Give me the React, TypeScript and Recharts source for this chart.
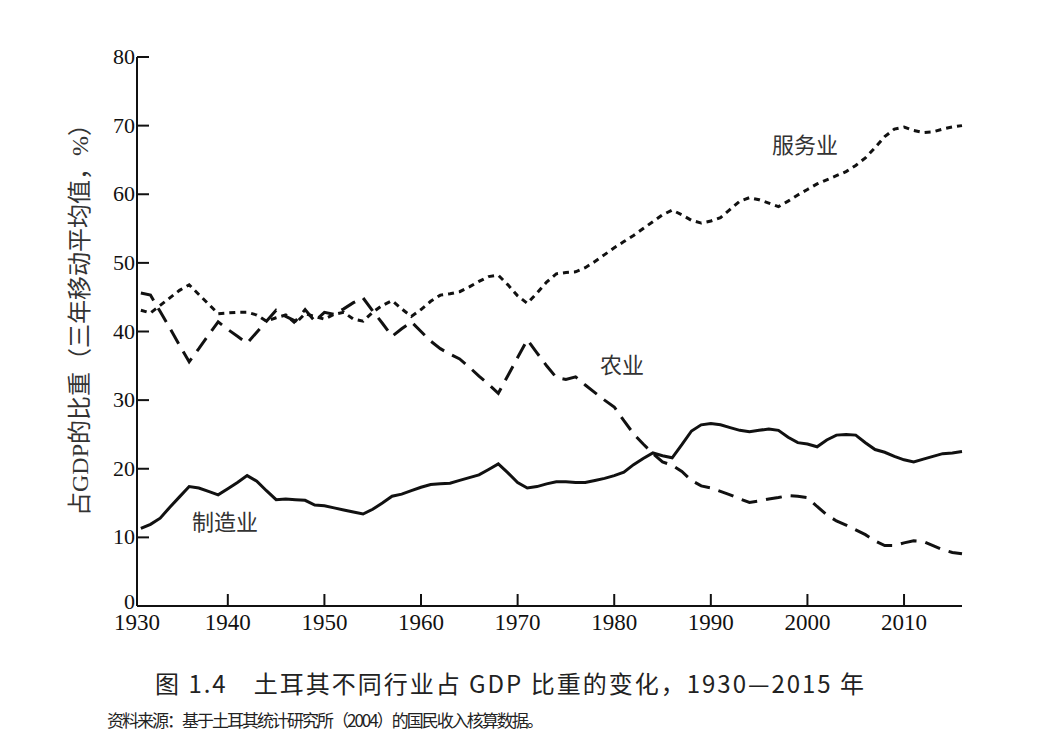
import { LineChart, Line, XAxis, YAxis } from 'recharts';

// three-year moving averages, 1931–2016
const years = Array.from({ length: 86 }, (_, i) => 1931 + i);

const agriculture = [
  45.6, 45.3, 42.9, 40.5, 38.0, 35.6, 37.5, 39.5, 41.4, 40.3,
  39.3, 38.3, 39.9, 41.5, 43.1, 42.2, 41.5, 43.2, 41.5, 42.8,
  42.5, 43.3, 44.2, 44.9, 43.0, 41.2, 39.3, 40.4, 41.4, 40.0,
  38.6, 37.5, 36.7, 36.0, 34.8, 33.5, 32.3, 31.0, 33.6, 36.2,
  38.8, 36.9, 35.0, 33.3, 33.0, 33.4, 32.2, 31.1, 30.0, 29.0,
  27.0, 25.1, 23.6, 22.2, 21.0, 20.5, 19.6, 18.3, 17.5, 17.2,
  16.7, 16.2, 15.6, 15.1, 15.3, 15.6, 15.8, 16.1, 16.0, 15.8,
  14.5, 13.3, 12.4, 11.8, 11.1, 10.4, 9.5, 8.8, 8.8, 9.2,
  9.5, 9.4, 8.8, 8.2, 7.8, 7.6,
];

const manufacturing = [
  11.3, 11.9, 12.8, 14.4, 15.9, 17.4, 17.2, 16.7, 16.2, 17.1,
  18.0, 19.0, 18.2, 16.8, 15.5, 15.6, 15.5, 15.4, 14.7, 14.6,
  14.3, 14.0, 13.7, 13.4, 14.1, 15.0, 16.0, 16.3, 16.8, 17.3,
  17.7, 17.8, 17.9, 18.3, 18.7, 19.1, 19.9, 20.7, 19.4, 18.0,
  17.2, 17.4, 17.8, 18.1, 18.1, 18.0, 18.0, 18.3, 18.6, 19.0,
  19.5, 20.6, 21.5, 22.3, 21.9, 21.6, 23.5, 25.5, 26.4, 26.6,
  26.4, 26.0, 25.6, 25.4, 25.6, 25.8, 25.6, 24.6, 23.8, 23.6,
  23.2, 24.2, 24.9, 25.0, 24.9, 23.8, 22.8, 22.4, 21.8, 21.3,
  21.0, 21.4, 21.8, 22.2, 22.3, 22.5,
];

const services = [
  43.1, 42.7, 43.8, 44.9, 46.0, 46.8, 45.4, 44.0, 42.6, 42.7,
  42.8, 42.8, 42.4, 41.5, 42.0, 42.4, 41.2, 42.6, 42.2, 41.8,
  42.5, 42.8, 41.8, 41.5, 42.8, 43.8, 44.5, 43.3, 42.2, 43.2,
  44.4, 45.3, 45.5, 45.8, 46.5, 47.3, 48.0, 48.2, 46.8, 45.2,
  44.1, 45.6, 47.2, 48.4, 48.6, 48.7, 49.3, 50.2, 51.2, 52.2,
  53.1, 54.0, 55.0, 56.0, 57.0, 57.7, 57.0, 56.2, 55.8, 56.1,
  56.6, 57.8, 59.0, 59.5, 59.2, 58.7, 58.2, 59.0, 59.9, 60.7,
  61.5, 62.1, 62.7, 63.3, 64.2, 65.3, 66.8, 68.4, 69.5, 69.8,
  69.3, 69.0, 69.1, 69.5, 69.8, 70.0,
];

const xTickLabels = [1930, 1940, 1950, 1960, 1970, 1980, 1990, 2000, 2010];
const yTickLabels = [0, 10, 20, 30, 40, 50, 60, 70, 80];

const X_MIN = 1930.6;
const X_MAX = 2016;

const data = years.map((year, i) => ({
  year,
  agriculture: agriculture[i],
  manufacturing: manufacturing[i],
  services: services[i],
}));

const numFont = "'Liberation Serif', 'DejaVu Serif', serif";
const cjkFont = "'Liberation Serif', 'Noto Sans CJK SC', serif";
const textColor = '#333';

function YTick(props: any) {
  const { x, y, payload } = props;
  // the 0 sits right on the corner, nudge it up a little so it clears 1930
  const dy = payload.value === 0 ? 3 : 7;
  return (
    <g>
      <line x1={x} x2={x + 12} y1={y} y2={y} stroke="#111" strokeWidth={2} />
      <text x={x - 2} y={y + dy} textAnchor="end" fontFamily={numFont} fontSize={22} fill="#111">
        {payload.value}
      </text>
    </g>
  );
}

function XTick(props: any) {
  const { x, y, payload } = props;
  const label = payload.value < 1935 ? 1930 : payload.value;
  return (
    <g>
      <line x1={x} x2={x} y1={y} y2={y - 12} stroke="#111" strokeWidth={2} />
      <text x={x} y={y + 24} textAnchor="middle" fontFamily={numFont} fontSize={23} fill="#111">
        {label}
      </text>
    </g>
  );
}

const seriesLabel = (left: number, top: number): React.CSSProperties => ({
  position: 'absolute',
  left,
  top,
  transform: 'translate(-50%, -50%)',
  fontFamily: "'Noto Sans CJK SC', sans-serif",
  fontSize: 22,
  lineHeight: 1,
  color: textColor,
  whiteSpace: 'nowrap',
});

export default function App() {
  return (
    <div style={{ position: 'absolute', left: 0, top: 0, width: 1044, height: 748, background: '#fff' }}>
      <LineChart
        width={1044}
        height={660}
        data={data}
        margin={{ top: 57, right: 1044 - 962, bottom: 0, left: 77 }}
      >
        <XAxis
          dataKey="year"
          type="number"
          domain={[X_MIN, X_MAX]}
          ticks={xTickLabels.map((t) => Math.max(t, X_MIN))}
          interval={0}
          height={54}
          tickSize={0}
          tickMargin={0}
          tickLine={false}
          axisLine={{ stroke: '#111', strokeWidth: 2 }}
          tick={XTick}
        />
        <YAxis
          type="number"
          domain={[0, 80]}
          ticks={yTickLabels}
          interval={0}
          width={60}
          tickSize={0}
          tickMargin={0}
          tickLine={false}
          axisLine={{ stroke: '#111', strokeWidth: 2 }}
          tick={YTick}
        />
        <Line
          type="linear"
          dataKey="manufacturing"
          stroke="#111"
          strokeWidth={3}
          dot={false}
          isAnimationActive={false}
        />
        <Line
          type="linear"
          dataKey="agriculture"
          stroke="#111"
          strokeWidth={3}
          strokeDasharray="16 9"
          dot={false}
          isAnimationActive={false}
        />
        <Line
          type="linear"
          dataKey="services"
          stroke="#111"
          strokeWidth={3}
          strokeDasharray="6 5"
          dot={false}
          isAnimationActive={false}
        />
      </LineChart>

      <div
        style={{
          position: 'absolute',
          left: 80,
          top: 314,
          transform: 'translate(-50%, -50%) rotate(-90deg)',
          fontFamily: cjkFont,
          fontSize: 24,
          lineHeight: 1,
          color: textColor,
          whiteSpace: 'nowrap',
        }}
      >
        占GDP的比重（三年移动平均值，%）
      </div>

      <div style={seriesLabel(805, 143)}>服务业</div>
      <div style={seriesLabel(622, 363)}>农业</div>
      <div style={seriesLabel(225, 520)}>制造业</div>

      <div
        style={{
          position: 'absolute',
          left: 155,
          top: 671,
          fontFamily: "'Noto Sans CJK SC', sans-serif",
          fontSize: 24,
          lineHeight: 1,
          letterSpacing: 2,
          color: '#222',
          whiteSpace: 'pre',
        }}
      >
        图 1.4　土耳其不同行业占 GDP 比重的变化，1930—2015 年
      </div>
      <div
        style={{
          position: 'absolute',
          left: 107,
          top: 711,
          fontFamily: "'Noto Sans CJK SC', sans-serif",
          fontSize: 17,
          lineHeight: 1,
          letterSpacing: -2,
          color: '#222',
          whiteSpace: 'pre',
        }}
      >
        资料来源：基于土耳其统计研究所（2004）的国民收入核算数据。
      </div>
    </div>
  );
}
